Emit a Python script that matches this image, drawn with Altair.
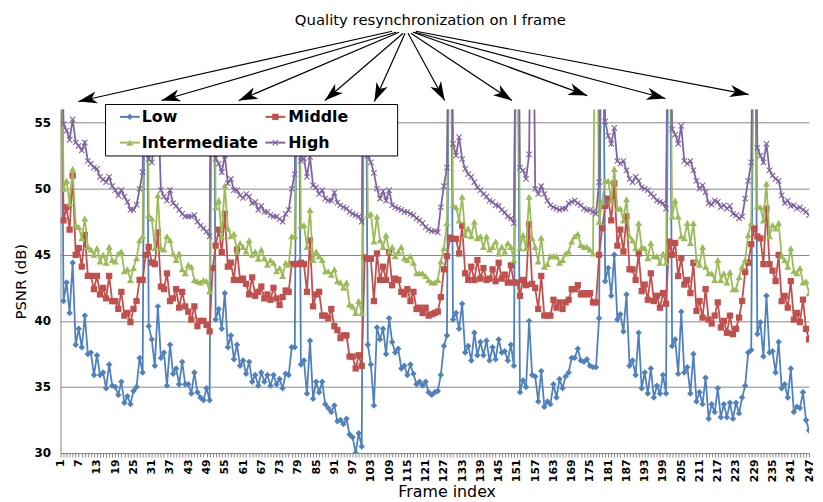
import math
import altair as alt
import pandas as pd

# PSNR of an I frame: far above the plotted range, so its spike is clipped at the top
I = 75.0

low = [
    I, 41.5, 42.9, 40.6, 44.4, 38.2, 39.4, 38.0, 40.4, 37.5,
    37.6, 35.9, 37.4, 35.9, 36.1, 34.9, 36.7, 35.1, 35.0, 34.4,
    35.4, 33.8, 34.3, 33.7, 34.7, 35.0, 37.2, 36.1, I, 39.6,
    38.6, 36.6, 41.1, 37.2, 37.6, 35.1, 38.2, 36.0, 36.4, 35.2,
    36.9, 35.2, 35.2, 34.5, 36.1, 34.6, 34.2, 34.0, 34.9, 34.0,
    I, 40.1, 40.9, 39.4, 42.1, 38.0, 38.9, 37.1, 38.2, 36.6,
    37.0, 36.0, 36.9, 35.4, 35.9, 35.1, 36.1, 35.4, 35.9, 35.1,
    35.9, 35.2, 35.6, 34.9, 36.0, 35.9, 38.0, 38.0, I, 36.7,
    37.0, 34.5, 38.5, 34.1, 35.4, 34.6, 35.4, 33.7, 33.4, 33.1,
    33.6, 32.4, 32.5, 32.2, 32.6, 31.4, 31.2, 30.0, 31.5, 30.5,
    I, 38.2, 36.7, 33.6, 39.5, 38.6, 39.4, 37.5, 40.2, 38.4,
    37.6, 37.9, 36.4, 36.6, 35.9, 36.7, 36.0, 35.2, 35.4, 35.1,
    35.4, 34.6, 34.4, 34.6, 34.7, 35.9, 38.1, 38.9, I, 40.1,
    40.6, 39.4, 41.3, 37.6, 38.1, 37.0, 39.1, 37.4, 38.4, 37.4,
    38.5, 37.0, 38.0, 37.1, 38.6, 37.6, 37.7, 37.0, 38.2, 36.6,
    I, 34.6, 35.5, 35.0, 40.0, 35.9, 35.8, 33.9, 36.2, 33.5,
    33.9, 33.7, 35.2, 34.2, 35.6, 34.9, 35.8, 36.1, 37.2, 37.2,
    37.9, 37.0, 36.9, 37.1, 36.6, 36.5, 36.5, 40.2, I, 43.0,
    44.0, 41.9, 45.0, 40.1, 40.5, 39.2, 42.0, 36.6, 37.0, 35.9,
    39.1, 34.9, 36.1, 34.5, 36.4, 34.2, 35.1, 34.5, 35.9, 34.5,
    I, 38.1, 38.6, 36.0, 40.7, 36.1, 36.5, 34.5, 37.5, 33.9,
    34.6, 33.7, 35.7, 32.6, 33.7, 33.1, 34.9, 32.7, 33.7, 32.7,
    33.8, 32.6, 33.8, 33.0, 34.2, 35.1, 37.6, 37.8, I, 39.0,
    39.9, 37.3, 41.9, 37.6, 37.7, 36.1, 38.4, 34.9, 35.2, 34.2,
    36.4, 33.1, 33.5, 33.4, 34.6, 32.5, 31.7,
]

middle = [
    I, 47.6, 48.6, 46.9, 51.0, 45.0, 45.5, 44.1, 46.5, 43.4,
    43.4, 42.4, 43.4, 42.0, 42.5, 41.7, 43.4, 41.5, 41.5, 40.9,
    42.2, 40.4, 40.6, 39.9, 40.9, 41.5, 43.1, 43.1, 45.0, 45.6,
    44.4, 44.3, 46.7, 42.6, 42.4, 43.6, 41.5, 41.7, 42.4, 41.0,
    42.2, 41.1, 40.7, 40.1, 41.1, 39.6, 40.0, 40.0, 39.7, 39.2,
    44.0, 45.7, 46.9, 45.2, 48.1, 44.1, 44.4, 43.1, 45.4, 43.1,
    43.2, 42.8, 42.0, 43.3, 41.9, 42.2, 42.6, 41.7, 42.0, 41.6,
    42.5, 41.7, 41.2, 41.8, 42.3, 42.2, 44.3, 44.3, 44.3, 44.4,
    44.3, 42.2, 46.1, 41.1, 42.0, 42.2, 40.4, 40.4, 40.2, 40.9,
    39.6, 39.3, 38.7, 38.9, 38.9, 37.3, 37.3, 36.4, 37.4, 36.6,
    44.8, 44.7, 44.7, 41.5, 45.1, 43.1, 44.1, 43.1, 45.2, 42.7,
    43.2, 43.1, 42.2, 42.0, 42.4, 41.5, 42.2, 40.9, 41.0, 40.6,
    41.0, 40.4, 40.5, 40.6, 40.7, 41.8, 43.9, 44.9, 46.3, 46.2,
    46.2, 45.1, 47.2, 43.6, 43.1, 44.1, 43.1, 44.6, 43.2, 44.0,
    43.1, 43.2, 43.9, 43.0, 44.4, 43.2, 43.5, 42.9, 44.2, 42.9,
    42.9, 41.9, 43.1, 42.7, 47.3, 42.8, 42.5, 40.9, 43.4, 40.4,
    40.4, 40.4, 41.6, 41.0, 41.4, 40.9, 41.4, 41.6, 42.4, 42.4,
    42.7, 42.0, 42.1, 42.0, 42.1, 41.4, 41.4, 45.0, 47.0, 48.7,
    49.25, 47.6, 50.4, 45.7, 46.9, 45.25, 47.9, 43.9, 43.9, 43.1,
    45.1, 42.25, 42.75, 41.6, 43.6, 41.5, 41.9, 41.0, 42.1, 41.3,
    46.0, 45.0, 45.9, 43.4, 44.75, 42.75, 43.1, 42.1, 44.4, 40.75,
    41.5, 40.25, 42.4, 40.1, 39.8, 40.4, 41.4, 39.5, 40.0, 39.1,
    40.4, 39.0, 39.4, 40.25, 41.5, 43.7, 44.4, 45.8, 47.0, 46.4,
    46.25, 44.3, 48.5, 44.3, 43.8, 43.0, 45.0, 41.5, 41.9, 41.0,
    43.0, 40.1, 40.6, 39.9, 41.6, 39.4, 38.6,
]

intermediate = [
    I, 50.0, 50.6, 48.9, 51.5, 47.25, 47.1, 46.25, 47.75, 45.6,
    45.4, 45.0, 45.5, 44.5, 45.0, 44.4, 45.6, 44.6, 44.5, 45.1,
    45.25, 43.75, 43.9, 43.1, 44.0, 44.75, 46.1, 46.4, I, 48.0,
    47.75, 45.5, 49.5, 45.5, 45.4, 46.4, 46.1, 45.1, 44.6, 45.1,
    43.9, 43.6, 44.25, 44.1, 43.1, 43.0, 42.9, 43.1, 43.0, 42.25,
    I, 48.6, 49.1, 46.4, 50.25, 47.0, 46.4, 46.6, 45.25, 45.9,
    45.6, 45.25, 46.1, 45.0, 45.25, 44.7, 45.4, 44.75, 44.25, 44.6,
    44.4, 43.75, 44.0, 43.4, 44.4, 44.25, 46.4, 46.4, I, 47.2,
    47.25, 45.6, 48.4, 44.6, 45.25, 44.9, 44.6, 43.75, 43.75, 43.5,
    43.9, 43.0, 42.9, 42.5, 42.9, 41.25, 41.1, 40.6, 41.5, 40.6,
    I, 48.0, 48.1, 46.0, 47.9, 46.1, 45.6, 46.5, 45.25, 45.6,
    44.9, 45.25, 45.6, 44.75, 44.6, 44.9, 44.4, 43.6, 43.6, 43.6,
    43.4, 43.1, 42.9, 42.9, 43.1, 44.5, 45.5, 47.4, I, 48.75,
    48.6, 47.6, 49.4, 46.5, 47.0, 46.4, 47.5, 46.25, 46.4, 45.6,
    46.4, 45.4, 45.6, 46.0, 45.1, 45.6, 45.25, 45.9, 45.6, 44.6,
    I, 45.5, 46.5, 45.5, 49.4, 46.25, 45.6, 44.5, 46.3, 44.1,
    44.3, 44.9, 44.9, 44.9, 44.4, 44.6, 45.1, 45.25, 46.0, 46.4,
    46.6, 45.75, 45.6, 45.6, 45.4, 45.1, I, 47.5, 49.0, 50.6,
    50.6, 49.1, 51.5, 48.5, 48.5, 47.6, 49.2, 46.4, 46.1, 45.5,
    47.4, 45.6, 45.5, 44.75, 45.9, 44.9, 44.9, 44.4, 45.1, 44.4,
    I, 47.9, 49.1, 47.9, 46.4, 46.25, 47.4, 45.9, 47.4, 44.6,
    44.25, 45.6, 44.1, 43.6, 43.6, 43.1, 44.6, 43.1, 43.6, 42.9,
    43.7, 42.4, 42.4, 43.3, 44.1, 44.6, 46.5, 47.4, I, 48.7,
    48.6, 47.6, 50.4, 46.4, 47.25, 47.0, 47.4, 44.9, 44.6, 44.1,
    45.5, 43.75, 43.6, 44.0, 42.9, 43.0, 42.1,
]

high = [
    I, 54.9, 54.4, 53.7, 55.25, 53.5, 53.25, 52.9, 53.5, 52.1,
    51.9, 51.6, 51.5, 50.9, 50.7, 50.5, 50.9, 50.2, 49.9, 49.5,
    49.9, 49.4, 49.0, 48.4, 48.4, 48.8, 50.0, 51.25, I, 52.25,
    52.0, 53.5, 57.0, 49.9, 49.4, 49.1, 49.9, 48.9, 48.7, 48.4,
    48.1, 47.9, 47.9, 47.9, 48.0, 47.5, 47.2, 47.0, 46.75, 46.4,
    I, 52.3, 51.9, 51.25, 52.5, 50.4, 50.75, 49.9, 49.9, 49.5,
    49.3, 49.6, 49.4, 48.9, 49.0, 48.4, 48.7, 48.25, 48.25, 48.0,
    47.9, 47.9, 47.7, 47.5, 48.1, 48.4, 50.0, 51.1, I, 52.1,
    52.3, 50.9, 52.4, 50.25, 50.1, 49.6, 49.9, 49.25, 49.1, 49.1,
    49.7, 48.95, 48.75, 48.6, 48.5, 48.25, 48.1, 48.0, 47.9, 47.5,
    I, 52.5, 52.0, 51.2, 50.0, 49.25, 49.8, 49.1, 49.9, 48.75,
    48.6, 48.5, 48.4, 48.25, 48.25, 48.1, 48.0, 47.75, 47.6, 47.4,
    47.1, 46.9, 46.8, 46.8, 46.7, 48.6, 50.2, 51.6, I, 53.4,
    52.5, 53.9, 52.25, 51.5, 51.1, 50.9, 50.5, 50.1, 49.9, 49.6,
    49.4, 49.1, 49.0, 48.75, 48.7, 48.4, 48.2, 47.9, 47.75, 47.4,
    I, 51.6, 51.4, 50.75, 52.6, I, 50.0, 49.6, 50.2, 49.6,
    49.1, 48.75, 48.6, 48.5, 48.4, 48.5, 48.5, 48.9, 49.0, 49.1,
    48.9, 48.75, 48.5, 48.4, 48.4, 48.25, 48.1, 50.5, I, 55.1,
    54.0, 53.4, 54.6, 52.1, 51.9, 52.1, 51.4, 50.75, 50.5, 50.9,
    50.6, 50.1, 50.0, 49.9, 49.6, 49.4, 49.1, 49.0, 48.9, 48.5,
    I, 54.5, 54.1, 53.4, 54.75, 52.1, 51.9, 52.1, 51.4, 50.6,
    50.0, 50.25, 49.75, 48.9, 48.8, 49.1, 49.0, 48.6, 48.75, 48.5,
    48.7, 48.1, 48.0, 47.75, 47.9, 49.25, 50.6, 52.0, I, 53.1,
    52.5, 52.0, 53.4, 51.4, 51.0, 50.75, 50.6, 49.5, 48.9, 49.1,
    48.7, 48.75, 48.5, 48.6, 48.4, 48.25, 48.0,
]

frames = list(range(1, len(low) + 1))
series_names = ["Low", "Middle", "Intermediate", "High"]
series_values = [low, middle, intermediate, high]
y_tick_values = [30, 35, 40, 45, 50, 55]
annotation_text = "Quality resynchronization on I frame"

# ---------------- styles / layout ----------------
FONT = "DejaVu Sans"
colors = {"Low": "#4F81BD", "Middle": "#C0504D", "Intermediate": "#9BBB59", "High": "#8064A2"}
XMARK = "M-1,-1L1,1M-1,1L1,-1"
markers = {
    "Low": dict(shape="diamond", filled=True, size=42),
    "Middle": dict(shape="square", filled=True, size=40),
    "Intermediate": dict(shape="triangle-up", filled=True, size=50),
    "High": dict(shape=XMARK, filled=False, size=30, strokeWidth=1.1),
}

W, H = 756, 347
X0, Y0 = 61, 108          # page pixel of plot origin
XD = [1, 247]
YD = [30, 56]


def fx(px):
    return XD[0] + (px - X0) * (XD[1] - XD[0]) / W


def fy(py):
    return YD[1] - (py - Y0) * (YD[1] - YD[0]) / H


xscale = alt.Scale(domain=XD, nice=False, zero=False)
yscale = alt.Scale(domain=YD, nice=False, zero=False)

x_axis = alt.Axis(
    values=frames,
    labelExpr="(datum.value - 1) % 6 == 0 ? datum.label : ''",
    labelAngle=270, labelFontWeight="bold", labelFontSize=11, labelColor="#000000",
    labelFont=FONT, labelOverlap=False, labelPadding=2, labelBound=False, labelFlush=False,
    tickSize=4, tickColor="#868686", domainColor="#868686", grid=False,
    title="Frame index", titleFont=FONT, titleFontSize=16, titleFontWeight="normal",
    titleColor="#000000", titlePadding=2, titleX=390,
)
y_axis = alt.Axis(
    values=y_tick_values, grid=True, gridColor="#868686", gridWidth=1, ticks=False,
    labelFontWeight="bold", labelFontSize=12, labelColor="#000000", labelFont=FONT,
    labelPadding=10, domainColor="#868686", labelFlush=False,
    title="PSNR (dB)", titleFont=FONT, titleFontSize=15, titleFontWeight="normal",
    titleColor="#000000", titlePadding=6,
)

rows = []
for name, vals in zip(series_names, series_values):
    for f, v in zip(frames, vals):
        rows.append({"frame": f, "psnr": v, "series": name})
df = pd.DataFrame(rows)


def enc(xf="frame", yf="psnr", **extra):
    return dict(
        x=alt.X(f"{xf}:Q", scale=xscale, axis=x_axis),
        y=alt.Y(f"{yf}:Q", scale=yscale, axis=y_axis),
        **extra,
    )


layers = []
for name in series_names:
    src = alt.Chart(df).transform_filter(alt.datum.series == name)
    layers.append(src.mark_line(color=colors[name], strokeWidth=1.8, clip=True)
                  .encode(**enc()))
    layers.append(src.mark_point(color=colors[name], opacity=1, clip=True, **markers[name])
                  .encode(**enc()))

# ---------------- annotation: text + arrows ----------------
arrow_starts = [(396, 29), (400, 30), (403, 30), (407, 31), (409, 31),
                (412, 31), (415, 31), (417, 30), (419, 30), (420, 29)]
arrow_tips = [(79, 100), (163, 99), (241, 99), (328, 99), (378, 100),
              (449, 99), (517, 99), (593, 94), (672, 97), (756, 93)]
arows = []
for (sx, sy), (tx, ty) in zip(arrow_starts, arrow_tips):
    ang = math.degrees(math.atan2(tx - sx, -(ty - sy))) % 360
    arows.append({"frame": fx(sx), "psnr": fy(sy), "frame2": fx(tx), "psnr2": fy(ty), "ang": ang})
adf = pd.DataFrame(arows)

layers.append(alt.Chart(adf).mark_rule(color="#000000", strokeWidth=1.2).encode(
    **enc(), x2="frame2:Q", y2="psnr2:Q"))
ARROW = "M0,0L-0.65,2L0,1.45L0.65,2Z"
layers.append(alt.Chart(adf).mark_point(shape=ARROW, filled=True, color="#000000",
                                        opacity=1, size=360).encode(
    **enc(xf="frame2", yf="psnr2"), angle=alt.Angle("ang:Q", scale=None)))

tdf = pd.DataFrame([{"frame": fx(434.5), "psnr": fy(18), "t": annotation_text}])
layers.append(alt.Chart(tdf).mark_text(font=FONT, fontSize=15, color="#000000",
                                       align="center", baseline="middle").encode(
    **enc(), text="t:N"))

# ---------------- legend (drawn by hand) ----------------
box = pd.DataFrame([{"frame": fx(106.5), "frame2": fx(401.5), "psnr": fy(103), "psnr2": fy(155)}])
layers.append(alt.Chart(box).mark_rect(fill="#ffffff", stroke="#000000", strokeWidth=1).encode(
    **enc(), x2="frame2:Q", y2="psnr2:Q"))

legend_layout = {
    "Low": (121, 141, 131, 143, 115.5),
    "Middle": (268, 288, 278, 291, 115.5),
    "Intermediate": (121, 141, 131, 143, 141.5),
    "High": (268, 288, 278, 291, 141.5),
}
for name in series_names:
    lx1, lx2, mx, tx, ly = legend_layout[name]
    ldf = pd.DataFrame([{"frame": fx(lx1), "frame2": fx(lx2), "fm": fx(mx), "ft": fx(tx),
                         "psnr": fy(ly), "label": name}])
    c = alt.Chart(ldf)
    layers.append(c.mark_rule(color=colors[name], strokeWidth=2).encode(**enc(), x2="frame2:Q"))
    layers.append(c.mark_point(color=colors[name], opacity=1, **markers[name]).encode(**enc(xf="fm")))
    layers.append(c.mark_text(font=FONT, fontSize=16, fontWeight="bold", color="#000000",
                              align="left", baseline="middle").encode(**enc(xf="ft"), text="label:N"))

chart = (
    alt.layer(*layers)
    .properties(width=W, height=H,
                padding={"left": 53, "top": 100, "right": 6, "bottom": 46},
                autosize=alt.AutoSizeParams(type="none"),
                background="#ffffff")
    .configure(font=FONT)
    .configure_view(strokeWidth=0)
)

chart.save("out.html", embed_options={"renderer": "svg", "actions": False})
